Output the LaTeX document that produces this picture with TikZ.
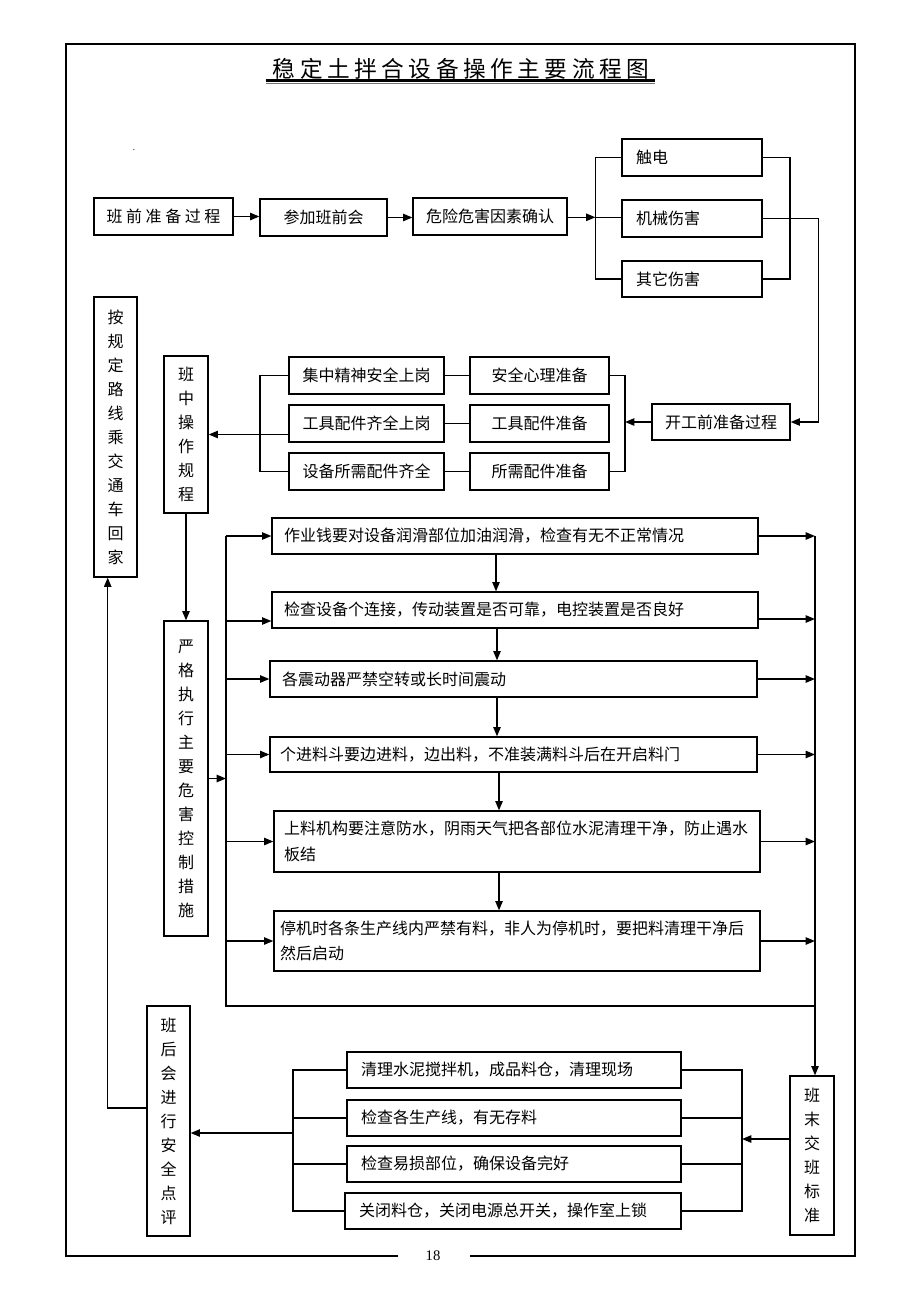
\documentclass[tikz,border=0pt]{standalone}
\usepackage{fontspec}
\setmainfont{Noto Sans CJK SC}
\newfontfamily\tm{Liberation Serif}
\newfontfamily\titlef{Noto Sans CJK SC}[LetterSpace=20]
\usetikzlibrary{arrows.meta,calc}
\tikzset{
  bx/.style={draw, line width=0.9pt, inner sep=0pt, font=\fontsize{12}{19}\selectfont},
  vt/.style={align=center, font=\fontsize{12}{18}\selectfont},
  ln/.style={line width=0.9pt},
  arr/.style={line width=1.1pt, -{Triangle[length=7pt,width=5.5pt]}},
}
\newcommand\mybox[7][]{\node[bx,#1,minimum width={(#5-#3)*0.75pt},minimum height={(#6-#4)*0.75pt}] (#2) at ({(#3+#5)/2},{(#4+#6)/2}) {#7};}
\newcommand\lbox[7]{%
  \pgfmathsetmacro\mytw{(#4-#2-2*#6)*0.75}%
  \pgfmathsetmacro\mypd{#6*0.75}%
  \node[bx,text width=\mytw pt,align=left,inner xsep=\mypd pt,minimum height={(#5-#3)*0.75pt}] (#1) at ({(#2+#4)/2},{(#3+#5)/2}) {#7};}
\begin{document}
\begin{tikzpicture}[x=0.75pt,y=-0.75pt]
\useasboundingbox (0,0) rectangle (920,1302);
% frame
\draw[line width=1.5pt] (470,1256) -- (855,1256) -- (855,44) -- (66,44) -- (66,1256) -- (398,1256);
\node[font=\tm\fontsize{11}{11}\selectfont] (pg) at (433,1256) {18};
% title
\node[font=\titlef\fontsize{17}{17}\selectfont, inner sep=0pt] (title) at (461,69) {稳定土拌合设备操作主要流程图};
\draw[line width=1.7pt] (266,80.5) -- (655,80.5);
\draw[line width=0.8pt, black!55] (266,83.2) -- (655,83.2);
\node[font=\fontsize{6}{6}\selectfont, inner sep=0pt] (dot) at (134,150) {.};
% top row
\mybox{t1}{94}{198}{233}{235}{班 前 准 备 过 程}
\mybox{t2}{260}{199}{387}{236}{参加班前会}
\mybox{t3}{413}{198}{567}{235}{危险危害因素确认}
\lbox{h1}{622}{139}{762}{176}{14}{触电}
\lbox{h2}{622}{200}{762}{237}{14}{机械伤害}
\lbox{h3}{622}{261}{762}{297}{14}{其它伤害}
\mybox{k1}{652}{404}{790}{440}{开工前准备过程}
% middle
\mybox{m1l}{289}{357}{444}{394}{集中精神安全上岗}
\mybox{m1r}{470}{357}{609}{394}{安全心理准备}
\mybox{m2l}{289}{405}{444}{442}{工具配件齐全上岗}
\mybox{m2r}{470}{405}{609}{442}{工具配件准备}
\mybox{m3l}{289}{453}{444}{490}{设备所需配件齐全}
\mybox{m3r}{470}{453}{609}{490}{所需配件准备}
\mybox[vt]{g1}{94}{297}{137}{577}{按\\规\\定\\路\\线\\乘\\交\\通\\车\\回\\家}
\mybox[vt]{s1}{164}{356}{208}{513}{班\\中\\操\\作\\规\\程}
\mybox[vt]{s2}{164}{621}{208}{936}{严\\格\\执\\行\\主\\要\\危\\害\\控\\制\\措\\施}
% steps
\lbox{p1}{272}{518}{758}{554}{12}{作业钱要对设备润滑部位加油润滑，检查有无不正常情况}
\lbox{p2}{272}{592}{758}{628}{12}{检查设备个连接，传动装置是否可靠，电控装置是否良好}
\lbox{p3}{270}{661}{757}{697}{12}{各震动器严禁空转或长时间震动}
\lbox{p4}{270}{737}{757}{772}{10}{个进料斗要边进料，边出料，不准装满料斗后在开启料门}
\lbox{p5}{274}{811}{760}{872}{10}{上料机构要注意防水，阴雨天气把各部位水泥清理干净，防止遇水\\板结}
\lbox{p6}{274}{911}{760}{971}{6}{停机时各条生产线内严禁有料，非人为停机时，要把料清理干净后\\然后启动}
% bottom
\mybox[vt]{e1}{790}{1076}{834}{1235}{班\\末\\交\\班\\标\\准}
\mybox[vt]{a1}{147}{1006}{190}{1236}{班\\后\\会\\进\\行\\安\\全\\点\\评}
\lbox{q1}{347}{1052}{681}{1088}{14}{清理水泥搅拌机，成品料仓，清理现场}
\lbox{q2}{347}{1100}{681}{1136}{14}{检查各生产线，有无存料}
\lbox{q3}{347}{1146}{681}{1182}{14}{检查易损部位，确保设备完好}
\lbox{q4}{345}{1193}{681}{1229}{14}{关闭料仓，关闭电源总开关，操作室上锁}
% helper coordinates
\coordinate (L1m) at (595.5,217.3);
\coordinate (R1) at (790,0);
\coordinate (R1x) at (818.3,0);
\coordinate (R2) at (625,0);
\coordinate (L2) at (260,0);
\coordinate (L4) at (226,0);
\coordinate (R4) at (815,0);
\coordinate (Lb) at (226,1006);
\coordinate (Rb) at (815,1006);
\coordinate (y2a) at (0,621);
\coordinate (y2b) at (0,619);
\coordinate (dx1) at (496,0);
\coordinate (dx2) at (497,0);
\coordinate (dx3) at (499,0);
\coordinate (R3) at (742,0);
\coordinate (L3) at (293,0);
\coordinate (ya) at (0,1139);
\coordinate (yb) at (0,1133);
\coordinate (yc) at (0,1108);
\coordinate (lx) at (107.7,0);
% top connectors
\draw[arr] (t1.east) -- (t1.east -| t2.west);
\draw[arr] (t2.east) -- (t2.east -| t3.west);
\draw[arr] (t3.east |- L1m) -- (L1m);
\draw[ln] (h1.west) -- (h1.west -| L1m) -- (h3.west -| L1m) -- (h3.west);
\draw[ln] (L1m) -- (L1m -| h2.west);
\draw[ln] (h1.east) -- (h1.east -| R1) -- (h3.east -| R1) -- (h3.east);
\draw[arr] (h2.east) -- (h2.east -| R1x) -- (R1x |- k1.east) -- (k1.east);
% middle connectors
\draw[ln] (m1r.east) -- (m1r.east -| R2) -- (m3r.east -| R2) -- (m3r.east);
\draw[arr] (k1.west) -- (k1.west -| R2);
\draw[ln] (m1l.east) -- (m1r.west);
\draw[ln] (m2l.east) -- (m2r.west);
\draw[ln] (m3l.east) -- (m3r.west);
\draw[ln] (m1l.west) -- (m1l.west -| L2) -- (m3l.west -| L2) -- (m3l.west);
\draw[arr] (m2l.west |- s1.east) -- (s1.east);
\draw[arr] (s1.south) -- (s2.north);
% steps connectors
\draw[arr] (s2.east) -- (s2.east -| L4);
\draw[ln] (L4 |- p1.west) -- (Lb) -- (Rb);
\draw[arr] (L4 |- p1.west) -- (p1.west);
\draw[arr] (L4 |- y2a) -- (p2.west |- y2a);
\draw[arr] (L4 |- p3.west) -- (p3.west);
\draw[arr] (L4 |- p4.west) -- (p4.west);
\draw[arr] (L4 |- p5.west) -- (p5.west);
\draw[arr] (L4 |- p6.west) -- (p6.west);
\draw[arr] (p1.east) -- (p1.east -| R4);
\draw[arr] (p2.east |- y2b) -- (R4 |- y2b);
\draw[arr] (p3.east) -- (p3.east -| R4);
\draw[arr] (p4.east) -- (p4.east -| R4);
\draw[arr] (p5.east) -- (p5.east -| R4);
\draw[arr] (p6.east) -- (p6.east -| R4);
\draw[arr] (R4 |- p1.east) -- (R4 |- e1.north);
\draw[arr] (dx1 |- p1.south) -- (dx1 |- p2.north);
\draw[arr] (dx2 |- p2.south) -- (dx2 |- p3.north);
\draw[arr] (dx2 |- p3.south) -- (dx2 |- p4.north);
\draw[arr] (dx3 |- p4.south) -- (dx3 |- p5.north);
\draw[arr] (dx3 |- p5.south) -- (dx3 |- p6.north);
% bottom connectors
\draw[ln] (q1.east) -- (q1.east -| R3) -- (q4.east -| R3) -- (q4.east);
\draw[ln] (q2.east) -- (q2.east -| R3);
\draw[ln] (q3.east) -- (q3.east -| R3);
\draw[arr] (e1.west |- ya) -- (R3 |- ya);
\draw[ln] (q1.west) -- (q1.west -| L3) -- (q4.west -| L3) -- (q4.west);
\draw[ln] (q2.west) -- (q2.west -| L3);
\draw[ln] (q3.west) -- (q3.west -| L3);
\draw[arr] (L3 |- yb) -- (a1.east |- yb);
\draw[arr] (a1.west |- yc) -- (lx |- yc) -- (lx |- g1.south);
\end{tikzpicture}
\end{document}
